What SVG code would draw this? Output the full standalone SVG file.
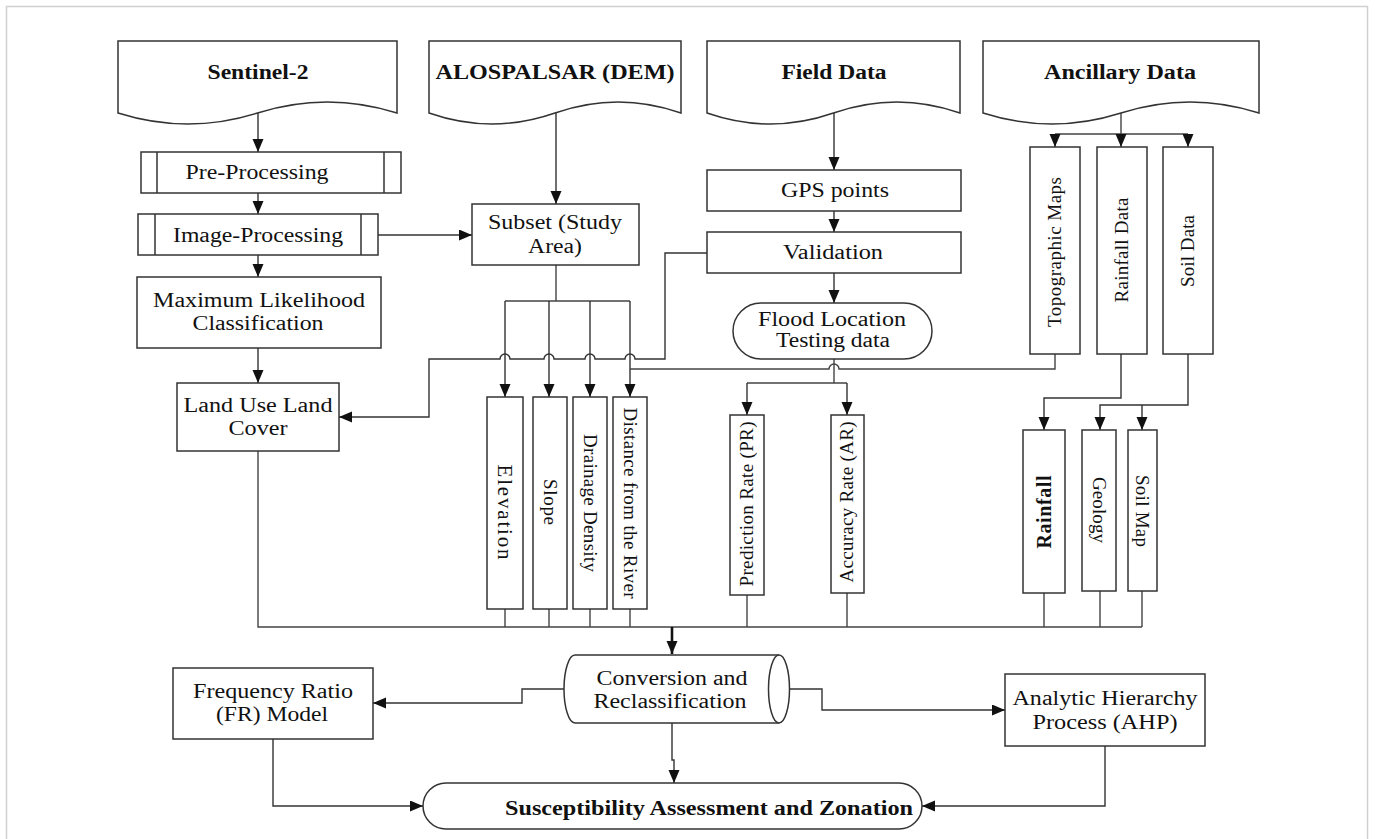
<svg xmlns="http://www.w3.org/2000/svg" width="1375" height="839" viewBox="0 0 1375 839">
<defs>
<marker id="ah" markerUnits="userSpaceOnUse" markerWidth="14" markerHeight="12" refX="13" refY="5.5" orient="auto">
<path d="M0,0 L13,5.5 L0,11 z" fill="#111"/>
</marker>
<style>
.box{fill:#fff;stroke:#333;stroke-width:1.5}
.ln{fill:none;stroke:#444;stroke-width:1.4}
.ar{fill:none;stroke:#333;stroke-width:1.4;marker-end:url(#ah)}
.t{font-family:"Liberation Serif","Times New Roman",serif;font-size:20px;fill:#111;text-anchor:middle}
.v{font-family:"Liberation Serif","Times New Roman",serif;font-size:19px;fill:#111;text-anchor:middle}
.b{font-weight:bold}
</style>
</defs>
<rect x="6.5" y="6.5" width="1361" height="900" fill="#fff" stroke="#d0d0d0" stroke-width="1.5"/>

<g id="connectors">
<path class="ar" d="M258,113 V152"/>
<path class="ar" d="M258,193 V214"/>
<path class="ar" d="M258,255 V277"/>
<path class="ar" d="M258,348 V383"/>
<path class="ar" d="M378,235 H472"/>
<path class="ar" d="M556,113 V204"/>
<path class="ln" d="M556,265 V301 M505,301 H630"/>
<path class="ar" d="M505,301 V397"/>
<path class="ar" d="M549,301 V397"/>
<path class="ar" d="M590,301 V397"/>
<path class="ar" d="M630,301 V397"/>
<path class="ar" d="M707,253 H665 V359 H635 A5,5 0 0 0 625,359 H595 A5,5 0 0 0 585,359 H554 A5,5 0 0 0 544,359 H510 A5,5 0 0 0 500,359 H429 V417 H339"/>
<path class="ar" d="M834,113 V170"/>
<path class="ar" d="M834,211 V232"/>
<path class="ar" d="M834,273 V303"/>
<path class="ln" d="M834,359 V383 M747,383 H847"/>
<path class="ar" d="M747,383 V415"/>
<path class="ar" d="M847,383 V415"/>
<path class="ln" d="M1055,354 V369 H839 A5,5 0 0 0 829,369 H630"/>
<path class="ln" d="M1121,113 V134 M1055,134 H1188"/>
<path class="ar" d="M1055,134 V147"/>
<path class="ar" d="M1121,134 V147"/>
<path class="ar" d="M1188,134 V147"/>
<path class="ar" d="M1121,354 V398 H1044 V430"/>
<path class="ar" d="M1188,354 V405 H1100 V430"/>
<path class="ar" d="M1142,405 V430"/>
<path class="ln" d="M258,451 V627 H1142 M505,609 V627 M549,609 V627 M590,609 V627 M630,609 V627 M747,595 V627 M847,593 V627 M1044,593 V627 M1100,591 V627 M1142,591 V627"/>
<path class="ar" style="stroke-width:2.6;stroke:#111" d="M672,627 V654"/>
<path class="ar" d="M564,689 H522 V703 H373"/>
<path class="ar" d="M789,689 H822 V710 H1005"/>
<path class="ar" d="M672,723 V760 H674 V783"/>
<path class="ar" d="M273,739 V806 H423"/>
<path class="ar" d="M1105,746 V806 H922"/>
</g>

<g id="sentinel2">
<path class="box" d="M118,113 V41 H397 V113 Q327.25,91 257.5,113 T118,113 Z"/>
<text class="t b" x="258" y="79" textLength="101" lengthAdjust="spacingAndGlyphs">Sentinel-2</text>
</g>
<g id="alospalsar">
<path class="box" d="M429,113 V41 H681 V113 Q618,91 555,113 T429,113 Z"/>
<text class="t b" x="555" y="79" textLength="239" lengthAdjust="spacingAndGlyphs">ALOSPALSAR (DEM)</text>
</g>
<g id="fielddata">
<path class="box" d="M707,113 V41 H960 V113 Q896.75,91 833.5,113 T707,113 Z"/>
<text class="t b" x="834" y="79" textLength="105" lengthAdjust="spacingAndGlyphs">Field Data</text>
</g>
<g id="ancillary">
<path class="box" d="M983,113 V41 H1259 V113 Q1190,91 1121,113 T983,113 Z"/>
<text class="t b" x="1120" y="79" textLength="152" lengthAdjust="spacingAndGlyphs">Ancillary Data</text>
</g>

<g id="preprocessing">
<rect class="box" x="141" y="152" width="260" height="41"/>
<path class="ln" d="M157,152 V193 M384,152 V193" style="stroke:#333;stroke-width:1.5"/>
<text class="t" x="257" y="179" textLength="143" lengthAdjust="spacingAndGlyphs">Pre-Processing</text>
</g>
<g id="imageprocessing">
<rect class="box" x="138" y="214" width="240" height="41"/>
<path class="ln" d="M155,214 V255 M361,214 V255" style="stroke:#333;stroke-width:1.5"/>
<text class="t" x="258" y="242" textLength="170" lengthAdjust="spacingAndGlyphs">Image-Processing</text>
</g>
<g id="mlc">
<rect class="box" x="137" y="277" width="244" height="71"/>
<text class="t" x="259" y="307" textLength="212" lengthAdjust="spacingAndGlyphs">Maximum Likelihood</text>
<text class="t" x="258" y="330" textLength="131" lengthAdjust="spacingAndGlyphs">Classification</text>
</g>
<g id="lulc">
<rect class="box" x="177" y="383" width="162" height="68"/>
<text class="t" x="258" y="412" textLength="149" lengthAdjust="spacingAndGlyphs">Land Use Land</text>
<text class="t" x="258" y="435" textLength="59" lengthAdjust="spacingAndGlyphs">Cover</text>
</g>
<g id="subset">
<rect class="box" x="472" y="204" width="167" height="61"/>
<text class="t" x="555" y="229" textLength="134" lengthAdjust="spacingAndGlyphs">Subset (Study</text>
<text class="t" x="555" y="253" textLength="54" lengthAdjust="spacingAndGlyphs">Area)</text>
</g>

<g id="elevation">
<rect class="box" x="487" y="397" width="36" height="212"/>
<text class="v" style="font-size:21px" transform="translate(505,512) rotate(90)" y="7" textLength="95" lengthAdjust="spacing">Elevation</text>
</g>
<g id="slope">
<rect class="box" x="533" y="397" width="34" height="212"/>
<text class="v" transform="translate(550,502) rotate(90)" y="6" textLength="46" lengthAdjust="spacing">Slope</text>
</g>
<g id="drainage">
<rect class="box" x="573" y="397" width="34" height="212"/>
<text class="v" transform="translate(590,503) rotate(90)" y="6" textLength="138" lengthAdjust="spacing">Drainage Density</text>
</g>
<g id="distance">
<rect class="box" x="613" y="397" width="34" height="212"/>
<text class="v" transform="translate(630,503) rotate(90)" y="6" textLength="191" lengthAdjust="spacing">Distance from the River</text>
</g>

<g id="gps">
<rect class="box" x="707" y="170" width="254" height="41"/>
<text class="t" x="835" y="197" textLength="108" lengthAdjust="spacingAndGlyphs">GPS points</text>
</g>
<g id="validation">
<rect class="box" x="707" y="232" width="254" height="41"/>
<text class="t" x="833" y="259" textLength="100" lengthAdjust="spacingAndGlyphs">Validation</text>
</g>
<g id="floodlocation">
<rect class="box" x="733" y="303" width="199" height="56" rx="28" ry="28"/>
<text class="t" x="832" y="326" textLength="148" lengthAdjust="spacingAndGlyphs">Flood Location</text>
<text class="t" x="833" y="347" textLength="114" lengthAdjust="spacingAndGlyphs">Testing data</text>
</g>
<g id="pr">
<rect class="box" x="730" y="415" width="34" height="180"/>
<text class="v" transform="translate(747,504) rotate(-90)" y="6" textLength="165" lengthAdjust="spacing">Prediction Rate (PR)</text>
</g>
<g id="ar">
<rect class="box" x="831" y="415" width="33" height="178"/>
<text class="v" transform="translate(847,502) rotate(-90)" y="6" textLength="161" lengthAdjust="spacing">Accuracy Rate (AR)</text>
</g>

<g id="topomaps">
<rect class="box" x="1030" y="147" width="50" height="207"/>
<text class="v" transform="translate(1055,252) rotate(-90)" y="6" textLength="150" lengthAdjust="spacing">Topographic Maps</text>
</g>
<g id="rainfalldata">
<rect class="box" x="1097" y="147" width="50" height="207"/>
<text class="v" transform="translate(1122,250) rotate(-90)" y="6" textLength="105" lengthAdjust="spacing">Rainfall Data</text>
</g>
<g id="soildata">
<rect class="box" x="1163" y="147" width="50" height="207"/>
<text class="v" transform="translate(1188,251) rotate(-90)" y="6" textLength="72" lengthAdjust="spacing">Soil Data</text>
</g>
<g id="rainfall">
<rect class="box" x="1023" y="430" width="42" height="163"/>
<text class="v b" style="font-size:20px" transform="translate(1044,512) rotate(-90)" y="7" textLength="73" lengthAdjust="spacing">Rainfall</text>
</g>
<g id="geology">
<rect class="box" x="1082" y="430" width="34" height="161"/>
<text class="v" transform="translate(1099,510) rotate(90)" y="6" textLength="66" lengthAdjust="spacing">Geology</text>
</g>
<g id="soilmap">
<rect class="box" x="1128" y="430" width="29" height="161"/>
<text class="v" transform="translate(1142,511) rotate(90)" y="6" textLength="72" lengthAdjust="spacing">Soil Map</text>
</g>

<g id="conversion">
<path class="box" d="M779,655 H575 A11,34 0 0 0 575,723 H779"/>
<ellipse class="box" cx="779" cy="689" rx="10.5" ry="34"/>
<text class="t" x="672" y="685" textLength="151" lengthAdjust="spacingAndGlyphs">Conversion and</text>
<text class="t" x="670" y="708" textLength="153" lengthAdjust="spacingAndGlyphs">Reclassification</text>
</g>
<g id="fr">
<rect class="box" x="173" y="668" width="200" height="71"/>
<text class="t" x="273" y="698" textLength="160" lengthAdjust="spacingAndGlyphs">Frequency Ratio</text>
<text class="t" x="272" y="721" textLength="112" lengthAdjust="spacingAndGlyphs">(FR) Model</text>
</g>
<g id="ahp">
<rect class="box" x="1005" y="674" width="200" height="72"/>
<text class="t" x="1105" y="705" textLength="185" lengthAdjust="spacingAndGlyphs">Analytic Hierarchy</text>
<text class="t" x="1105" y="729" textLength="145" lengthAdjust="spacingAndGlyphs">Process (AHP)</text>
</g>
<g id="susceptibility">
<rect class="box" x="423" y="783" width="499" height="46" rx="23" ry="23"/>
<text class="t b" x="709" y="815" textLength="408" lengthAdjust="spacingAndGlyphs">Susceptibility Assessment and Zonation</text>
</g>
</svg>
